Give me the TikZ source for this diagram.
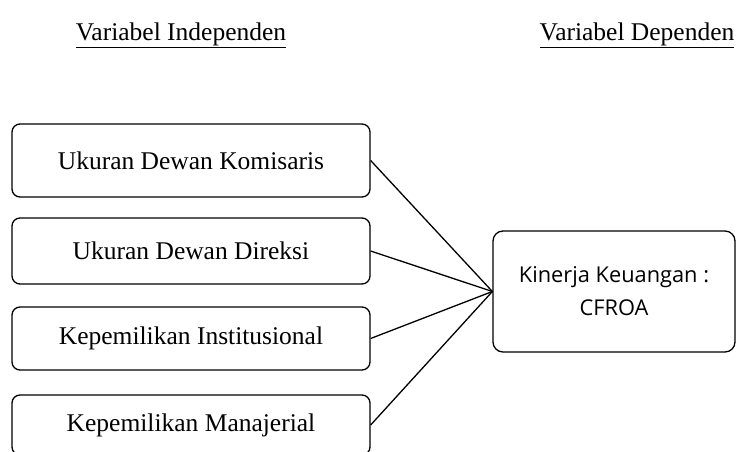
\documentclass[tikz,border=0pt]{standalone}
\usepackage{fontspec}
\setmainfont{Liberation Serif}
\newfontfamily\kinerjafont{Open Sans}
\usepackage{tikz}
\usetikzlibrary{positioning}

\begin{document}
\begin{tikzpicture}[x=1pt, y=-1pt,
  vbox/.style={draw, rounded corners=8pt, line width=1.3pt, minimum width=358pt, align=center, font=\fontsize{25.5}{30}\selectfont, inner sep=0pt},
  kbox/.style={draw, rounded corners=10pt, line width=1.3pt, minimum width=242pt, minimum height=121pt, align=center, font=\kinerjafont\fontsize{21.8}{33}\selectfont},
  head/.style={font=\fontsize{25.5}{30}\selectfont, inner sep=0pt},
  link/.style={line width=1.3pt}
]
  \clip (0,0) rectangle (736,452);
  \useasboundingbox (0,0) rectangle (736,452);

  % judul
  \node[head] (hindep) at (181, 35) {\underline{Variabel Independen}};
  \node[head] (hdep) at (637, 35) {\underline{Variabel Dependen}};

  % variabel independen
  \node[vbox, minimum height=73pt] (komisaris) at (191, 160.5) {Ukuran Dewan Komisaris};
  \node[vbox, minimum height=66pt] (direksi) at (191, 251) {Ukuran Dewan Direksi};
  \node[vbox, minimum height=63pt] (institusi) at (191, 338.5) {Kepemilikan Institusional};
  \node[vbox, minimum height=60pt] (manajerial) at (191, 425) {Kepemilikan Manajerial};

  % variabel dependen
  \node[kbox] (kinerja) at (614, 291.5) {Kinerja Keuangan :\\CFROA};

  \foreach \v in {komisaris, direksi, institusi, manajerial}
    \draw[link] (\v.east) -- (kinerja.west);
\end{tikzpicture}
\end{document}
